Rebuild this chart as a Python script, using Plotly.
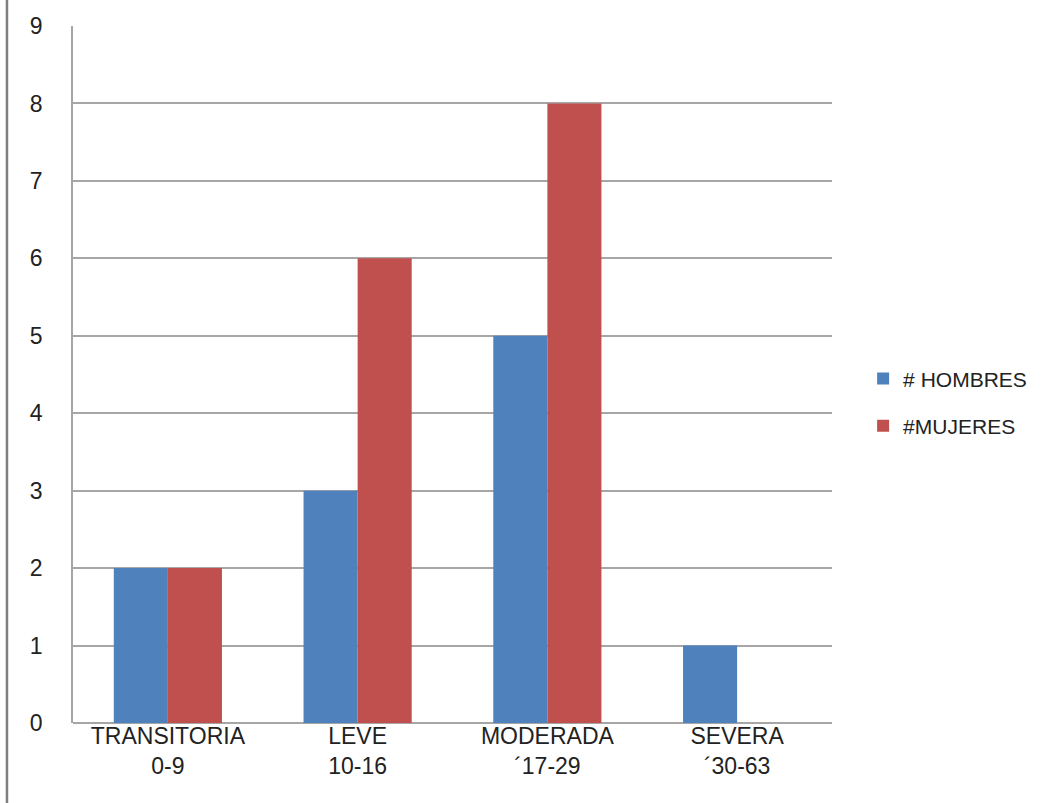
import plotly.graph_objects as go

categories = ["TRANSITORIA<br>0-9", "LEVE<br>10-16", "MODERADA<br>´17-29", "SEVERA<br>´30-63"]
hombres = [2, 3, 5, 1]
mujeres = [2, 6, 8, 0]
series_names = ["# HOMBRES", "#MUJERES"]
colors = ["#4F81BD", "#C0504D"]

fig = go.Figure()
fig.add_trace(go.Bar(x=categories, y=hombres, name=series_names[0], marker_color=colors[0],
                     marker_line_width=0, legendgroup="a"))
fig.add_trace(go.Bar(x=categories, y=mujeres, name=series_names[1], marker_color=colors[1],
                     marker_line_width=0, legendgroup="b"))

font = "Liberation Sans, Arial, sans-serif"
fig.update_layout(
    width=1044, height=803,
    margin=dict(l=73, r=212, t=26, b=80),
    paper_bgcolor="white", plot_bgcolor="white",
    barmode="group", bargap=0.43, bargroupgap=0,
    font=dict(family=font, size=21, color="#222222"),
    showlegend=True,
    legend=dict(x=1.041, y=0.46, xanchor="left", yanchor="middle",
                traceorder="grouped", tracegroupgap=17,
                font=dict(size=21, color="#222222"), itemwidth=30),
    xaxis=dict(showgrid=False, showline=False, ticks="", tickfont=dict(size=23),
               ticklabelstandoff=-3),
    yaxis=dict(range=[0, 9], dtick=1, showgrid=True, gridcolor="#A6A6A6", gridwidth=1.5,
               showline=True, linecolor="#A6A6A6", linewidth=1.5, ticks="",
               zeroline=True, zerolinecolor="#A6A6A6", zerolinewidth=1.5,
               ticklabelstandoff=24, tickfont=dict(size=23)),
    shapes=[dict(type="line", xref="paper", yref="paper", x0=-0.087, x1=-0.087,
                 y0=-0.115, y1=1.04, line=dict(color="#7F7F7F", width=2.5))],
)

fig.write_html("out.html")
